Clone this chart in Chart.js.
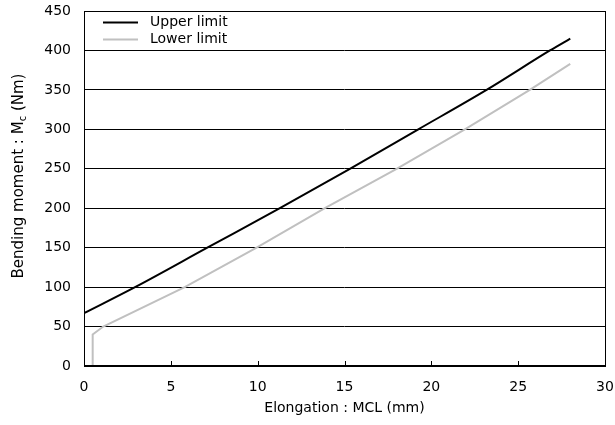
<!DOCTYPE html>
<html>
<head>
<meta charset="utf-8">
<script src="https://cdn.jsdelivr.net/npm/chart.js@4"></script>
<style>
  html, body { margin: 0; padding: 0; background: #fff; }
  #wrap { width: 615px; height: 425px; }
</style>
</head>
<body>
<div id="wrap"><canvas id="MomentChart"></canvas></div>
<script>
// readings
const upperX = [0, 2.94, 7.1, 11.28, 15.31, 19.25, 23.18, 26.83, 28];
const upperY = [67, 100, 150, 200, 250, 300, 350, 400, 415];
const lowerX = [0.5, 0.5, 1.11, 5.8, 9.94, 13.87, 18.0, 21.93, 25.67, 28];
const lowerY = [0, 40, 50, 100, 150, 200, 250, 300, 350, 383];
const seriesNames = ["Upper limit", "Lower limit"];
const xTitle = "Elongation : MCL (mm)";
const yTitleMain = "Bending moment : M";
const yTitleSub = "c";
const yTitleEnd = " (Nm)";

const FONT = "'DejaVu Sans', sans-serif";

function toPoints(xs, ys) {
  return xs.map((x, i) => ({ x: x, y: ys[i] }));
}

// frame, inward x ticks, legend and axis titles
const decorate = {
  id: "decorate",
  afterDraw(chart) {
    const ctx = chart.ctx;
    const a = chart.chartArea;
    const xs = chart.scales.x;
    ctx.save();
    ctx.strokeStyle = "#000";
    ctx.lineWidth = 1;
    ctx.strokeRect(a.left + 0.5, a.top + 0.5, a.right - a.left, a.bottom - a.top);
    ctx.lineWidth = 2;
    ctx.beginPath();
    ctx.moveTo(a.left, a.bottom);
    ctx.lineTo(a.right + 1, a.bottom);
    ctx.stroke();
    ctx.lineWidth = 1;
    for (let v = 5; v < 30; v += 5) {
      const px = Math.round(xs.getPixelForValue(v)) + 0.5;
      ctx.beginPath();
      ctx.moveTo(px, a.bottom);
      ctx.lineTo(px, a.bottom - 5);
      ctx.stroke();
    }

    // legend
    ctx.font = "14px " + FONT;
    ctx.textBaseline = "middle";
    ctx.fillStyle = "#000";
    chart.data.datasets.forEach((ds, i) => {
      const y = 22.5 + i * 17;
      ctx.strokeStyle = ds.borderColor;
      ctx.lineWidth = 2;
      ctx.beginPath();
      ctx.moveTo(103, y);
      ctx.lineTo(138, y);
      ctx.stroke();
      ctx.fillText(ds.label, 150, y);
    });

    // x title
    ctx.textAlign = "center";
    ctx.fillText(xTitle, (a.left + a.right) / 2, 408);

    // y title with subscript
    ctx.translate(19, 176);
    ctx.rotate(-Math.PI / 2);
    ctx.textAlign = "left";
    ctx.font = "15px " + FONT;
    const w1 = ctx.measureText(yTitleMain).width;
    ctx.font = "10px " + FONT;
    const w2 = ctx.measureText(yTitleSub).width;
    ctx.font = "15px " + FONT;
    const w3 = ctx.measureText(yTitleEnd).width;
    let x0 = -(w1 + w2 + w3) / 2;
    ctx.fillText(yTitleMain, x0, 0);
    ctx.font = "10px " + FONT;
    ctx.fillText(yTitleSub, x0 + w1, 4);
    ctx.font = "15px " + FONT;
    ctx.fillText(yTitleEnd, x0 + w1 + w2, 0);
    ctx.restore();
  },
};

function plotMoment() {
  let ctx = document.getElementById("MomentChart").getContext("2d");

  new Chart(ctx, {
    type: "scatter",
    data: {
      datasets: [
        {
          label: seriesNames[0],
          data: toPoints(upperX, upperY),
          showLine: true,
          borderColor: "#000000",
          borderWidth: 2,
          pointRadius: 0,
          cubicInterpolationMode: "monotone",
        },
        {
          label: seriesNames[1],
          data: toPoints(lowerX, lowerY),
          showLine: true,
          borderColor: "#c0c0c0",
          borderWidth: 2,
          pointRadius: 0,
          tension: 0,
        },
      ],
    },
    options: {
      responsive: true,
      maintainAspectRatio: false,
      animation: false,
      layout: { padding: { top: 11, right: 10, left: 0, bottom: 0 } },
      plugins: {
        legend: { display: false },
        tooltip: { enabled: false },
      },
      scales: {
        x: {
          type: "linear",
          min: 0,
          max: 30,
          afterFit: (s) => {
            s.height = 59;
            s.paddingLeft = 0;
            s.paddingRight = 0;
          },
          grid: { display: false },
          border: { display: false },
          ticks: {
            stepSize: 5,
            padding: 5,
            color: "#000",
            font: { family: FONT, size: 14 },
            maxRotation: 0,
          },
        },
        y: {
          min: 0,
          max: 450,
          afterFit: (s) => {
            s.width = 84;
            s.paddingTop = 0;
            s.paddingBottom = 0;
          },
          grid: { color: "#000", lineWidth: 1, drawTicks: false },
          border: { display: false },
          ticks: {
            stepSize: 50,
            padding: 13,
            color: "#000",
            font: { family: FONT, size: 14 },
          },
        },
      },
    },
    plugins: [decorate],
  });
}
plotMoment();
</script>
</body>
</html>
